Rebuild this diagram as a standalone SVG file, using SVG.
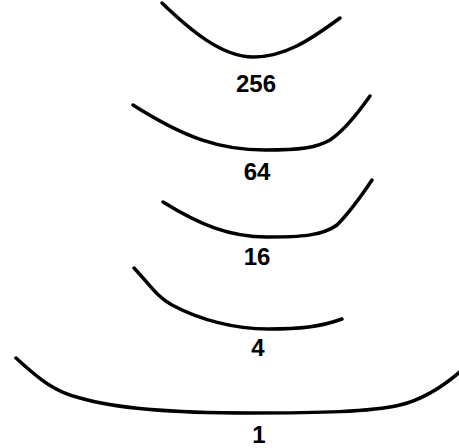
<svg xmlns="http://www.w3.org/2000/svg" width="459" height="448" viewBox="0 0 459 448">
<style>
.c{fill:none;stroke:#000;stroke-width:3.5;stroke-linecap:round;stroke-linejoin:round}
.t{font-family:"Liberation Sans",Arial,sans-serif;font-size:24px;font-weight:bold;fill:#000;text-anchor:middle}
</style>
<rect width="459" height="448" fill="#fff"/>
<g id="curves">
<g id="c256"><path class="c" d="M162,3 C190,30 222,57 253,57 C285,57 310,40 340,18"/><text class="t" x="256" y="92">256</text></g>
<g id="c64"><path class="c" d="M133,105 C185,138 220,150 265,150 C300,150 316,148 330,140 C345,130 358,113 370,96"/><text class="t" x="257" y="180">64</text></g>
<g id="c16"><path class="c" d="M163,202 C200,225 230,237 267,237 C300,237 322,236 337,225 C350,212 362,195 372,180"/><text class="t" x="257" y="265">16</text></g>
<g id="c4"><path class="c" d="M134,268 C150,285 158,298 172,305 C200,320 235,329 268,329 C300,329 320,327 342,319"/><text class="t" x="258" y="356">4</text></g>
<g id="c1"><path class="c" d="M16,358 C40,380 55,392 80,398 C120,410 180,413 250,413 C320,413 370,412 400,405 C425,399 445,385 462,370"/><text class="t" x="259" y="443">1</text></g>
</g>
</svg>
